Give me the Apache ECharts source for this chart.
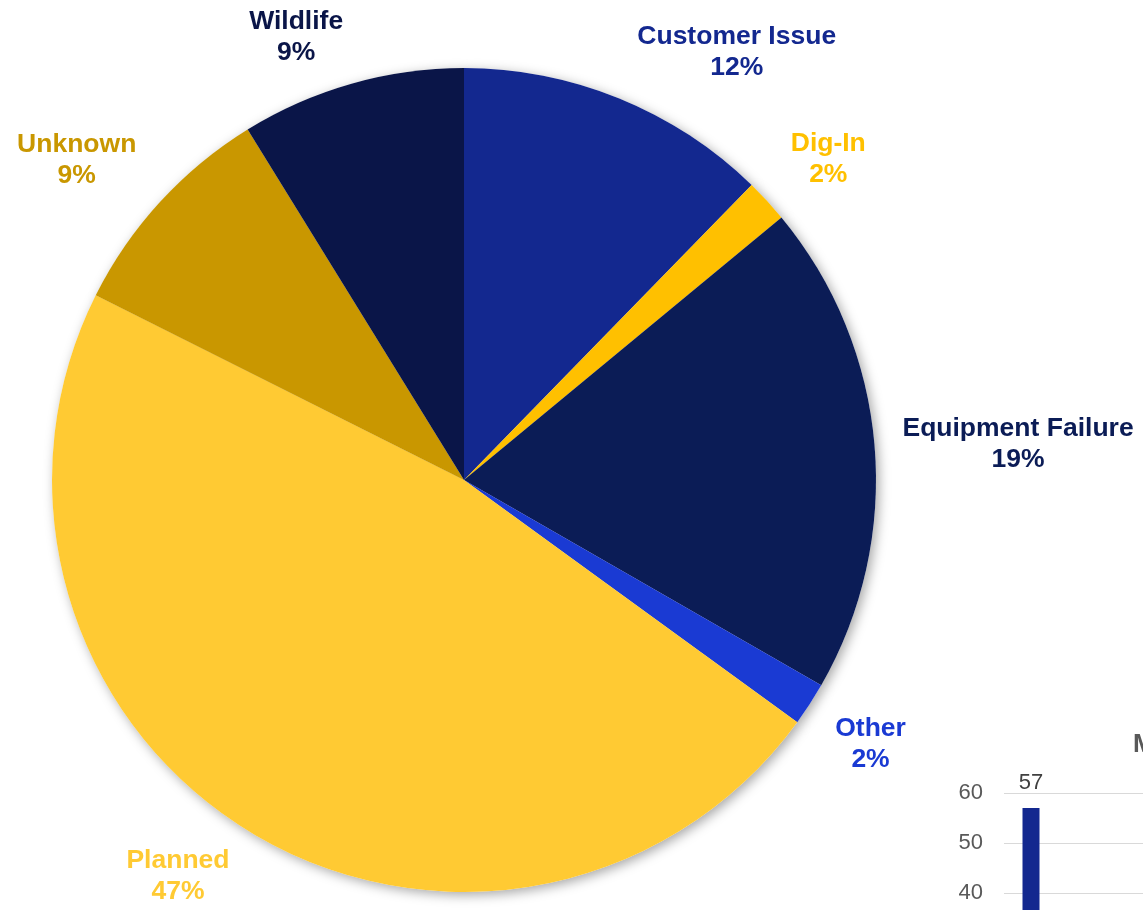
<!DOCTYPE html>
<html>
<head>
<meta charset="utf-8">
<script src="https://cdn.jsdelivr.net/npm/echarts@6/dist/echarts.min.js"></script>
<style>
html, body { margin: 0; padding: 0; background: #fff; }
#main { width: 1143px; height: 910px; }
</style>
</head>
<body>
<div id="main"></div>
<script>
// pie: outage causes (share of outages)
var causeNames = ['Customer Issue', 'Dig-In', 'Equipment Failure', 'Other', 'Planned', 'Unknown', 'Wildlife'];
var causeValues = [12.3, 1.7, 19.3, 1.7, 47.4, 8.8, 8.8];
var causeColors = ['#13288F', '#FFC000', '#0B1C56', '#1A3AD3', '#FFCA33', '#C99700', '#0A1548'];

// bar chart cut off at the right edge, only the first bar is visible
var monthNames = ['Jan', 'Feb', 'Mar', 'Apr', 'May', 'Jun', 'Jul', 'Aug', 'Sep', 'Oct', 'Nov', 'Dec'];
var monthValues = [57, '-', '-', '-', '-', '-', '-', '-', '-', '-', '-', '-'];
var yTicks = { min: 0, max: 60, interval: 10 };

var FONT = "'Liberation Sans', Arial, sans-serif";

var chart = echarts.init(document.getElementById('main'));

var pieData = causeNames.map(function (n, i) {
    return {
        name: n,
        value: causeValues[i],
        itemStyle: { color: causeColors[i] },
        label: { color: causeColors[i] }
    };
});
var shadowData = causeNames.map(function (n, i) {
    return { name: n, value: causeValues[i] };
});

function clamp01(v) { return Math.max(0, Math.min(1, v)); }

var option = {
    backgroundColor: '#ffffff',
    animation: false,
    title: {
        text: 'Monthly Outages',
        left: 1128,
        top: 727,
        textStyle: { fontFamily: FONT, fontSize: 26, fontWeight: 'bold', color: '#595959' }
    },
    grid: {
        left: 1004,
        top: 793,
        width: 648,
        height: 300,
        outerBoundsMode: 'none'
    },
    xAxis: {
        type: 'category',
        data: monthNames,
        axisLine: { show: false },
        axisTick: { show: false },
        axisLabel: { show: false }
    },
    yAxis: {
        type: 'value',
        min: yTicks.min,
        max: yTicks.max,
        interval: yTicks.interval,
        axisLine: { show: false },
        axisTick: { show: false },
        axisLabel: { fontFamily: FONT, fontSize: 22, color: '#595959', margin: 21 },
        splitLine: { lineStyle: { color: '#D9D9D9', width: 1 } }
    },
    series: [
        {
            // white copy underneath, only to cast the soft drop shadow
            type: 'pie',
            silent: true,
            center: [464, 480],
            radius: 412,
            startAngle: 90,
            clockwise: true,
            z: 1,
            data: shadowData,
            label: { show: false },
            labelLine: { show: false },
            itemStyle: {
                color: '#ffffff',
                shadowBlur: 12,
                shadowOffsetX: 3,
                shadowOffsetY: 3,
                shadowColor: 'rgba(0,0,0,0.35)'
            }
        },
        {
            type: 'pie',
            center: [464, 480],
            radius: 412,
            startAngle: 90,
            clockwise: true,
            percentPrecision: 0,
            avoidLabelOverlap: false,
            z: 2,
            data: pieData,
            itemStyle: { borderWidth: 0 },
            label: {
                show: true,
                position: 'outside',
                formatter: '{b}\n{d}%',
                fontFamily: FONT,
                fontSize: 26.5,
                fontWeight: 'bold',
                lineHeight: 31,
                align: 'center'
            },
            labelLine: { show: false },
            labelLayout: function (p) {
                // excel-like outside end: box corner sits just off the rim
                var lay = chart.getModel().getSeriesByIndex(p.seriesIndex).getData().getItemLayout(p.dataIndex);
                var mid = (lay.startAngle + lay.endAngle) / 2;
                var dx = Math.cos(mid), dy = Math.sin(mid);
                var R = lay.r + 16;
                var w = p.labelRect.width, h = p.labelRect.height;
                var fx = (dx < 0 ? -1 : 1) * clamp01((Math.abs(dx) - 0.1) * 5);
                var fy = (dy < 0 ? -1 : 1) * clamp01((Math.abs(dy) - 0.1) * 5);
                return {
                    x: lay.cx + R * dx + fx * (w / 2 + 12),
                    y: lay.cy + R * dy + fy * h / 2,
                    align: 'center',
                    verticalAlign: 'middle'
                };
            }
        },
        {
            type: 'bar',
            data: monthValues,
            barWidth: 17,
            itemStyle: { color: '#13288F' },
            label: {
                show: true,
                position: 'top',
                distance: 14,
                fontFamily: FONT,
                fontSize: 22,
                color: '#404040'
            }
        }
    ]
};

chart.setOption(option);
</script>
</body>
</html>
